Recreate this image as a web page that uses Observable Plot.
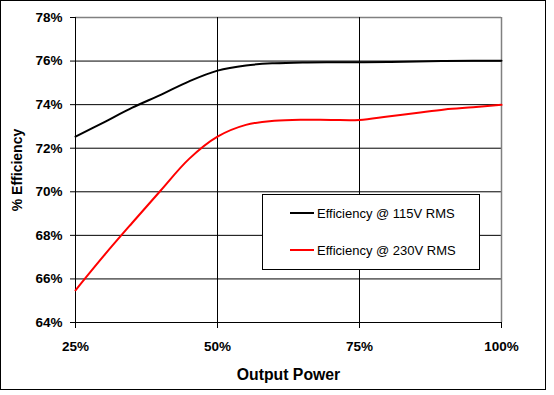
<!DOCTYPE html>
<html>
<head>
<meta charset="utf-8">
<script src="https://cdn.jsdelivr.net/npm/d3@7"></script>
<script src="https://cdn.jsdelivr.net/npm/@observablehq/plot@0.6"></script>
<style>
  html, body { margin: 0; padding: 0; background: #fff; }
  #wrap { position: relative; width: 554px; height: 395px; font-family: Arial, "Liberation Sans", sans-serif; }
  #frame { position: absolute; left: 0; top: 0; width: 544px; height: 388px; border: 1px solid #000; pointer-events: none; }
  #legend { position: absolute; left: 262px; top: 194px; width: 216px; height: 74px; border: 1px solid #000; background: #fff; font-size: 13px; color: #000; }
  .row { position: absolute; left: 27px; height: 16px; display: flex; align-items: center; }
  .sw { width: 24px; height: 2px; margin-right: 3px; }
</style>
</head>
<body>
<div id="wrap">
  <div id="chart"></div>
  <div id="frame"></div>
  <div id="legend"></div>
</div>
<script>
const outputPower = [25, 30, 35, 40, 45, 50, 55, 60, 65, 70, 75, 80, 85, 90, 95, 100];
const eff115 = [72.53, 73.19, 73.86, 74.45, 75.07, 75.56, 75.80, 75.90, 75.94, 75.95, 75.95, 75.96, 75.98, 76.00, 76.01, 76.02];
const eff230 = [65.48, 67.07, 68.58, 70.06, 71.51, 72.53, 73.07, 73.26, 73.31, 73.30, 73.30, 73.46, 73.62, 73.78, 73.88, 73.99];
const seriesNames = ["Efficiency @ 115V RMS", "Efficiency @ 230V RMS"];
const seriesColors = ["#000000", "#ff0000"];
const xTicks = [25, 50, 75, 100];
const yTicks = [64, 66, 68, 70, 72, 74, 76, 78];
const xTitle = "Output Power";
const yTitle = "% Efficiency";

const data = [];
outputPower.forEach((p, i) => {
  data.push({p, v: eff115[i], s: seriesNames[0]});
  data.push({p, v: eff230[i], s: seriesNames[1]});
});

const font = "Arial, 'Liberation Sans', sans-serif";
const chart = Plot.plot({
  width: 554,
  height: 395,
  marginLeft: 75,
  marginRight: 53,
  marginTop: 17,
  marginBottom: 73,
  style: {fontFamily: font, background: "transparent", overflow: "visible"},
  x: {domain: [25, 100], ticks: xTicks},
  y: {domain: [64, 78], ticks: yTicks},
  color: {domain: seriesNames, range: seriesColors},
  marks: [
    Plot.ruleY(yTicks.filter(d => d < 78), {stroke: "#000", strokeWidth: 1}),
    Plot.ruleY([78], {stroke: "#808080", strokeWidth: 1.5}),
    Plot.ruleX([50, 75], {stroke: "#000", strokeWidth: 1}),
    Plot.ruleX([100], {stroke: "#808080", strokeWidth: 1.5}),
    Plot.ruleX([25], {stroke: "#000", strokeWidth: 1}),
    Plot.axisY({ticks: yTicks, tickSize: 5, tickPadding: 8, tickFormat: d => d + "%", label: null, fontSize: 13.5, fontWeight: "bold", strokeOpacity: 1, color: "#000"}),
    Plot.axisX({ticks: xTicks, tickSize: 6, tickPadding: 13, tickFormat: d => d + "%", label: null, fontSize: 13.5, fontWeight: "bold", strokeOpacity: 1, color: "#000"}),
    Plot.line(data, {x: "p", y: "v", z: "s", stroke: "s", strokeWidth: 2, curve: "catmull-rom"}),
    Plot.text([xTitle], {frameAnchor: "bottom", dy: 52, lineAnchor: "middle", fontSize: 15.8, fontWeight: "bold", fill: "#000"}),
    Plot.text([yTitle], {frameAnchor: "left", dx: -58, rotate: -90, textAnchor: "middle", lineAnchor: "middle", fontSize: 14, fontWeight: "bold", fill: "#000"})
  ]
});
document.getElementById("chart").appendChild(chart);

const legend = document.getElementById("legend");
seriesNames.forEach((name, i) => {
  const row = document.createElement("div");
  row.className = "row";
  row.style.top = (i === 0 ? 10 : 47) + "px";
  const sw = document.createElement("div");
  sw.className = "sw";
  sw.style.background = seriesColors[i];
  const t = document.createElement("span");
  t.textContent = name;
  row.appendChild(sw);
  row.appendChild(t);
  legend.appendChild(row);
});
</script>
</body>
</html>
